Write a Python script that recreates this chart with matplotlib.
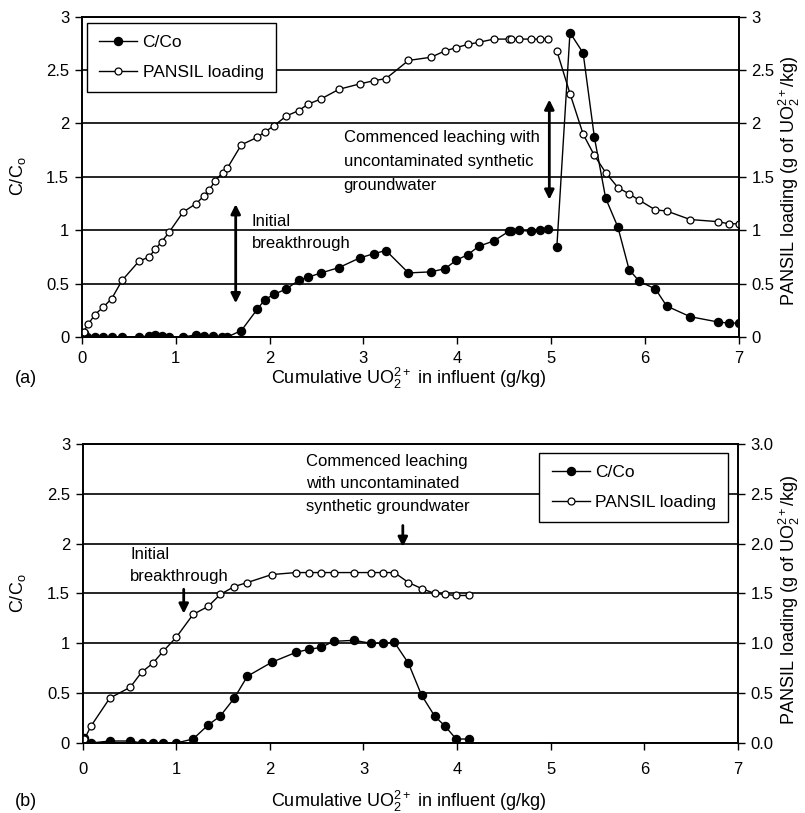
import matplotlib
matplotlib.use('Agg')
import matplotlib.pyplot as plt
import numpy as np

plt.rcParams['font.family'] = ['Liberation Sans', 'DejaVu Sans']
plt.rcParams['mathtext.fontset'] = 'custom'
plt.rcParams['mathtext.rm'] = 'Liberation Sans'
plt.rcParams['mathtext.it'] = 'Liberation Sans:italic'

# (a) loading phase then leaching phase
xa_load = [0.02, 0.06, 0.14, 0.23, 0.32, 0.43, 0.61, 0.72, 0.78, 0.85, 0.93, 1.08, 1.22, 1.30,
           1.40, 1.49, 1.55, 1.70, 1.87, 1.95, 2.05, 2.18, 2.31, 2.41, 2.55, 2.74, 2.96, 3.11,
           3.24, 3.48, 3.72, 3.87, 3.99, 4.11, 4.23, 4.39, 4.55, 4.57, 4.66, 4.78, 4.88, 4.97]
cc_a_load = [0.04, 0.0, 0.0, 0.0, 0.0, 0.0, 0.0, 0.01, 0.02, 0.01, 0.0, 0.0, 0.02, 0.01,
             0.01, 0.0, 0.0, 0.06, 0.26, 0.35, 0.40, 0.45, 0.53, 0.56, 0.60, 0.65, 0.74, 0.78,
             0.81, 0.60, 0.61, 0.64, 0.72, 0.77, 0.85, 0.90, 0.99, 0.99, 1.00, 0.99, 1.00, 1.01]
xa_pl_load = [0.02, 0.07, 0.14, 0.23, 0.32, 0.43, 0.61, 0.72, 0.78, 0.85, 0.93, 1.08, 1.22, 1.30,
              1.36, 1.42, 1.50, 1.55, 1.70, 1.87, 1.95, 2.05, 2.18, 2.31, 2.41, 2.55, 2.74, 2.96,
              3.11, 3.24, 3.48, 3.72, 3.87, 3.99, 4.11, 4.23, 4.39, 4.55, 4.57, 4.66, 4.78, 4.88, 4.97]
pl_a_load = [0.05, 0.12, 0.21, 0.28, 0.36, 0.53, 0.71, 0.75, 0.82, 0.89, 0.98, 1.17, 1.25, 1.32,
             1.38, 1.46, 1.54, 1.58, 1.80, 1.87, 1.92, 1.98, 2.07, 2.12, 2.18, 2.23, 2.32, 2.37,
             2.40, 2.42, 2.59, 2.62, 2.68, 2.71, 2.74, 2.76, 2.79, 2.79, 2.79, 2.79, 2.79, 2.79, 2.79]
xa_leach = [5.06, 5.20, 5.34, 5.46, 5.58, 5.71, 5.83, 5.94, 6.11, 6.23, 6.48, 6.78, 6.89, 7.0]
cc_a_leach = [0.84, 2.85, 2.66, 1.87, 1.30, 1.03, 0.63, 0.52, 0.45, 0.29, 0.19, 0.14, 0.13, 0.13]
pl_a_leach = [2.68, 2.28, 1.90, 1.70, 1.54, 1.40, 1.34, 1.28, 1.19, 1.18, 1.10, 1.08, 1.06, 1.06]

# (b)
xb = [0.02, 0.09, 0.29, 0.51, 0.63, 0.75, 0.86, 1.00, 1.18, 1.34, 1.47, 1.62, 1.76, 2.02,
      2.28, 2.42, 2.55, 2.68, 2.90, 3.08, 3.21, 3.33, 3.48, 3.62, 3.76, 3.87, 3.99, 4.13]
cc_b = [0.05, 0.0, 0.02, 0.02, 0.0, 0.0, 0.0, 0.0, 0.04, 0.18, 0.27, 0.45, 0.67, 0.81,
        0.91, 0.94, 0.96, 1.02, 1.03, 1.00, 1.00, 1.01, 0.80, 0.48, 0.27, 0.17, 0.04, 0.04]
pl_b = [0.04, 0.17, 0.45, 0.56, 0.71, 0.80, 0.92, 1.06, 1.29, 1.37, 1.49, 1.57, 1.61, 1.69,
        1.71, 1.71, 1.71, 1.71, 1.71, 1.71, 1.71, 1.71, 1.61, 1.55, 1.50, 1.49, 1.48, 1.48]

y_ticks = [0, 0.5, 1, 1.5, 2, 2.5, 3]

filled = dict(color='black', lw=1.0, marker='o', ms=5.8, mfc='black', mec='black')
hollow = dict(color='black', lw=1.0, marker='o', ms=5.0, mfc='white', mec='black', mew=0.9)

fig = plt.figure(figsize=(8.05, 8.13), dpi=100)


def setup(ax, ax2, right_fmt, xpad):
    ax.set_xlim(0, 7)
    ax.set_ylim(0, 3)
    ax2.set_ylim(0, 3)
    ax.set_xticks(range(8))
    ax.set_yticks(y_ticks)
    ax.set_yticklabels(['0', '0.5', '1', '1.5', '2', '2.5', '3'])
    ax2.set_yticks(y_ticks)
    ax2.set_yticklabels([right_fmt(v) for v in y_ticks])
    for a in (ax, ax2):
        a.tick_params(direction='out', length=5, width=1, labelsize=12, pad=4)
        for s in a.spines.values():
            s.set_linewidth(1.2)
    ax.tick_params(axis='x', pad=xpad)
    ax.yaxis.grid(True, color='black', lw=1.2)
    ax.set_axisbelow(True)


def add_legend(ax, handles, loc, anchor):
    leg = ax.legend(handles=handles, loc=loc, bbox_to_anchor=anchor, borderaxespad=0,
                    fontsize=12.5, fancybox=False, framealpha=1, edgecolor='black',
                    handlelength=2.2, labelspacing=0.85, borderpad=0.7, handletextpad=0.3)
    leg.get_frame().set_linewidth(1.0)


# ---- panel (a)
ax1 = fig.add_axes([0.1015, 0.5855, 0.8165, 0.394])
ax1b = ax1.twinx()
setup(ax1, ax1b, lambda v: '%g' % v, 5)
l1, = ax1b.plot(xa_load, cc_a_load, **filled, label='C/Co')
ax1b.plot(xa_leach, cc_a_leach, **filled)
l2, = ax1b.plot(xa_pl_load, pl_a_load, **hollow, label='PANSIL loading')
ax1b.plot(xa_leach, pl_a_leach, **hollow)
add_legend(ax1b, [l1, l2], 'upper left', (0.008, 0.980))

ax1b.text(1.81, 0.98, 'Initial\nbreakthrough', fontsize=12, ha='left', va='center',
          linespacing=1.55)
ax1b.annotate('', xy=(1.64, 1.27), xytext=(1.64, 0.29),
              arrowprops=dict(arrowstyle='<|-|>', color='black', lw=2, mutation_scale=14))
ax1b.text(2.79, 1.64, 'Commenced leaching with\nuncontaminated synthetic\ngroundwater',
          fontsize=12, ha='left', va='center', linespacing=1.75)
ax1b.annotate('', xy=(4.98, 2.25), xytext=(4.98, 1.26),
              arrowprops=dict(arrowstyle='<|-|>', color='black', lw=2, mutation_scale=14))

# ---- panel (b)
ax2 = fig.add_axes([0.1026, 0.0861, 0.8142, 0.3678])
ax2b = ax2.twinx()
setup(ax2, ax2b, lambda v: '%.1f' % v, 9)
m1, = ax2b.plot(xb, cc_b, **filled, label='C/Co')
m2, = ax2b.plot(xb, pl_b, **hollow, label='PANSIL loading')
add_legend(ax2b, [m1, m2], 'upper right', (0.985, 0.970))

ax2b.text(0.51, 1.78, 'Initial\nbreakthrough', fontsize=12, ha='left', va='center',
          linespacing=1.55)
ax2b.annotate('', xy=(1.08, 1.27), xytext=(1.08, 1.57),
              arrowprops=dict(arrowstyle='-|>', color='black', lw=2, mutation_scale=14))
ax2b.text(2.39, 2.60, 'Commenced leaching\nwith uncontaminated\nsynthetic groundwater',
          fontsize=12, ha='left', va='center', linespacing=1.6)
ax2b.annotate('', xy=(3.42, 1.94), xytext=(3.42, 2.21),
              arrowprops=dict(arrowstyle='-|>', color='black', lw=2, mutation_scale=14))

# ---- axis titles
xlab = 'Cumulative UO$_2^{2+}$ in influent (g/kg)'
rlab = 'PANSIL loading (g of UO$_2^{2+}$/kg)'
clab = 'C/C$_\\mathrm{o}$'
fig.text(0.507, 0.535, xlab, fontsize=13, ha='center', va='center')
fig.text(0.507, 0.0147, xlab, fontsize=13, ha='center', va='center')
fig.text(0.019, 0.535, '(a)', fontsize=13, ha='left', va='center')
fig.text(0.019, 0.0147, '(b)', fontsize=13, ha='left', va='center')
fig.text(0.022, 0.7835, clab, fontsize=13, rotation=90, ha='center', va='center')
fig.text(0.022, 0.2706, clab, fontsize=13, rotation=90, ha='center', va='center')
fig.text(0.981, 0.778, rlab, fontsize=13, rotation=90, ha='center', va='center')
fig.text(0.981, 0.262, rlab, fontsize=13, rotation=90, ha='center', va='center')

fig.savefig('out.png', dpi=100)
